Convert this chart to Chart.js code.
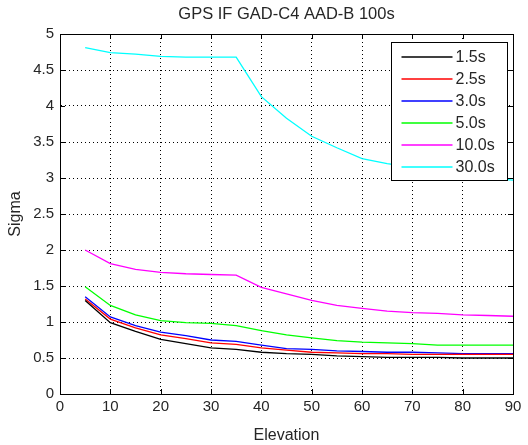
<!DOCTYPE html>
<html>
<head>
<meta charset="utf-8">
<script src="https://cdn.jsdelivr.net/npm/chart.js@4"></script>
<style>
	html, body { margin: 0; padding: 0; background: #fff; }
	#wrap { width: 528px; height: 445px; }
</style>
</head>
<body>
<div id="wrap"><canvas id="myChart"></canvas></div>
<script>
const elevation = [5, 10, 15, 20, 25, 30, 35, 40, 45, 50, 55, 60, 65, 70, 75, 80, 85, 90];
const seriesNames = ["1.5s", "2.5s", "3.0s", "5.0s", "10.0s", "30.0s"];
const seriesColors = ["#000000", "#ff0000", "#0000ff", "#00ff00", "#ff00ff", "#00ffff"];
const s15 = [1.30, 0.99, 0.87, 0.76, 0.70, 0.64, 0.62, 0.58, 0.56, 0.55, 0.53, 0.52, 0.51, 0.51, 0.51, 0.50, 0.50, 0.50];
const s25 = [1.32, 1.04, 0.92, 0.82, 0.77, 0.71, 0.69, 0.64, 0.61, 0.58, 0.57, 0.56, 0.56, 0.55, 0.55, 0.55, 0.55, 0.55];
const s30 = [1.35, 1.07, 0.95, 0.86, 0.81, 0.75, 0.73, 0.68, 0.63, 0.62, 0.60, 0.59, 0.58, 0.58, 0.57, 0.56, 0.56, 0.56];
const s50 = [1.49, 1.23, 1.10, 1.02, 0.99, 0.98, 0.95, 0.88, 0.82, 0.78, 0.74, 0.72, 0.71, 0.70, 0.68, 0.68, 0.68, 0.68];
const s100 = [2.00, 1.81, 1.73, 1.69, 1.67, 1.66, 1.65, 1.48, 1.39, 1.30, 1.23, 1.19, 1.15, 1.13, 1.12, 1.10, 1.09, 1.08];
const s300 = [4.81, 4.74, 4.72, 4.69, 4.68, 4.68, 4.68, 4.13, 3.83, 3.58, 3.42, 3.27, 3.20, 3.15, 3.08, 3.04, 3.00, 2.97];
const allSeries = [s15, s25, s30, s50, s100, s300];

const fontFamily = "'Liberation Sans', Arial, sans-serif";
const textColor = "#262626";

// matlab style box, inward ticks and legend inside the axes
const matlabBox = {
	id: "matlabBox",
	afterDatasetsDraw(chart) {
		const c = chart.ctx;
		const a = chart.chartArea;
		const xs = chart.scales.x;
		const ys = chart.scales.y;
		c.save();
		c.setLineDash([]);
		c.strokeStyle = "#000";
		c.lineWidth = 1;
		c.beginPath();
		xs.ticks.forEach((t) => {
			const px = Math.round(xs.getPixelForValue(t.value)) + 0.5;
			c.moveTo(px, a.bottom);
			c.lineTo(px, a.bottom - 5);
			c.moveTo(px, a.top);
			c.lineTo(px, a.top + 5);
		});
		ys.ticks.forEach((t) => {
			const py = Math.round(ys.getPixelForValue(t.value)) + 0.5;
			c.moveTo(a.left, py);
			c.lineTo(a.left + 5, py);
			c.moveTo(a.right, py);
			c.lineTo(a.right - 5, py);
		});
		c.stroke();
		c.strokeRect(Math.round(a.left) + 0.5, Math.round(a.top) + 0.5, Math.round(a.right - a.left), Math.round(a.bottom - a.top));

		// legend
		const w = 116;
		const h = 138;
		const lx = Math.round(a.right) - 6 - w + 0.5;
		const ly = Math.round(a.top) + 8 + 0.5;
		c.fillStyle = "#fff";
		c.fillRect(lx, ly, w, h);
		c.strokeStyle = "#000";
		c.strokeRect(lx, ly, w, h);
		c.font = "16px " + fontFamily;
		c.textBaseline = "middle";
		c.textAlign = "left";
		seriesNames.forEach((name, i) => {
			const ry = Math.round(ly + 14 + i * 22);
			c.beginPath();
			c.lineWidth = 1.5;
			c.strokeStyle = seriesColors[i];
			c.moveTo(lx + 10, ry);
			c.lineTo(lx + 61, ry);
			c.stroke();
			c.fillStyle = textColor;
			c.fillText(name, lx + 64, ry + 1);
		});
		c.restore();
	},
};

const ctx = document.getElementById("myChart");
let myChart = new Chart(ctx, {
	type: "line",
	data: {
		datasets: seriesNames.map((name, i) => ({
			label: name,
			data: elevation.map((e, j) => ({ x: e, y: allSeries[i][j] })),
			borderColor: seriesColors[i],
			backgroundColor: seriesColors[i],
			borderWidth: 1.3,
			pointRadius: 0,
			tension: 0,
		})),
	},
	options: {
		responsive: true,
		maintainAspectRatio: false,
		animation: false,
		layout: {
			padding: { left: 0, right: 15, top: 0, bottom: 0 },
		},
		plugins: {
			legend: { display: false },
			tooltip: { enabled: false },
			title: {
				display: true,
				fullSize: false,
				text: "GPS IF GAD-C4 AAD-B 100s",
				color: textColor,
				font: { family: fontFamily, size: 16.5, weight: "normal" },
				padding: { top: 5, bottom: 9.2 },
			},
		},
		scales: {
			x: {
				type: "linear",
				min: 0,
				max: 90,
				ticks: {
					stepSize: 10,
					color: textColor,
					font: { family: fontFamily, size: 15 },
					padding: 4,
					maxRotation: 0,
				},
				grid: {
					color: "#000",
					drawTicks: false,
				},
				border: { display: true, color: "#000", dash: [1, 3] },
				title: {
					display: true,
					text: "Elevation",
					color: textColor,
					font: { family: fontFamily, size: 16 },
					padding: { top: 1, bottom: 0 },
				},
				afterFit(scale) {
					scale.height = 51;
				},
			},
			y: {
				min: 0,
				max: 5,
				ticks: {
					stepSize: 0.5,
					color: textColor,
					font: { family: fontFamily, size: 15 },
					padding: 6,
					callback: (value) => String(value),
				},
				grid: {
					color: "#000",
					drawTicks: false,
				},
				border: { display: true, color: "#000", dash: [1, 3] },
				title: {
					display: true,
					text: "Sigma",
					color: textColor,
					font: { family: fontFamily, size: 16 },
					padding: { top: 6, bottom: 0 },
				},
				afterFit(scale) {
					scale.width = 60;
				},
			},
		},
	},
	plugins: [matlabBox],
});
</script>
</body>
</html>
